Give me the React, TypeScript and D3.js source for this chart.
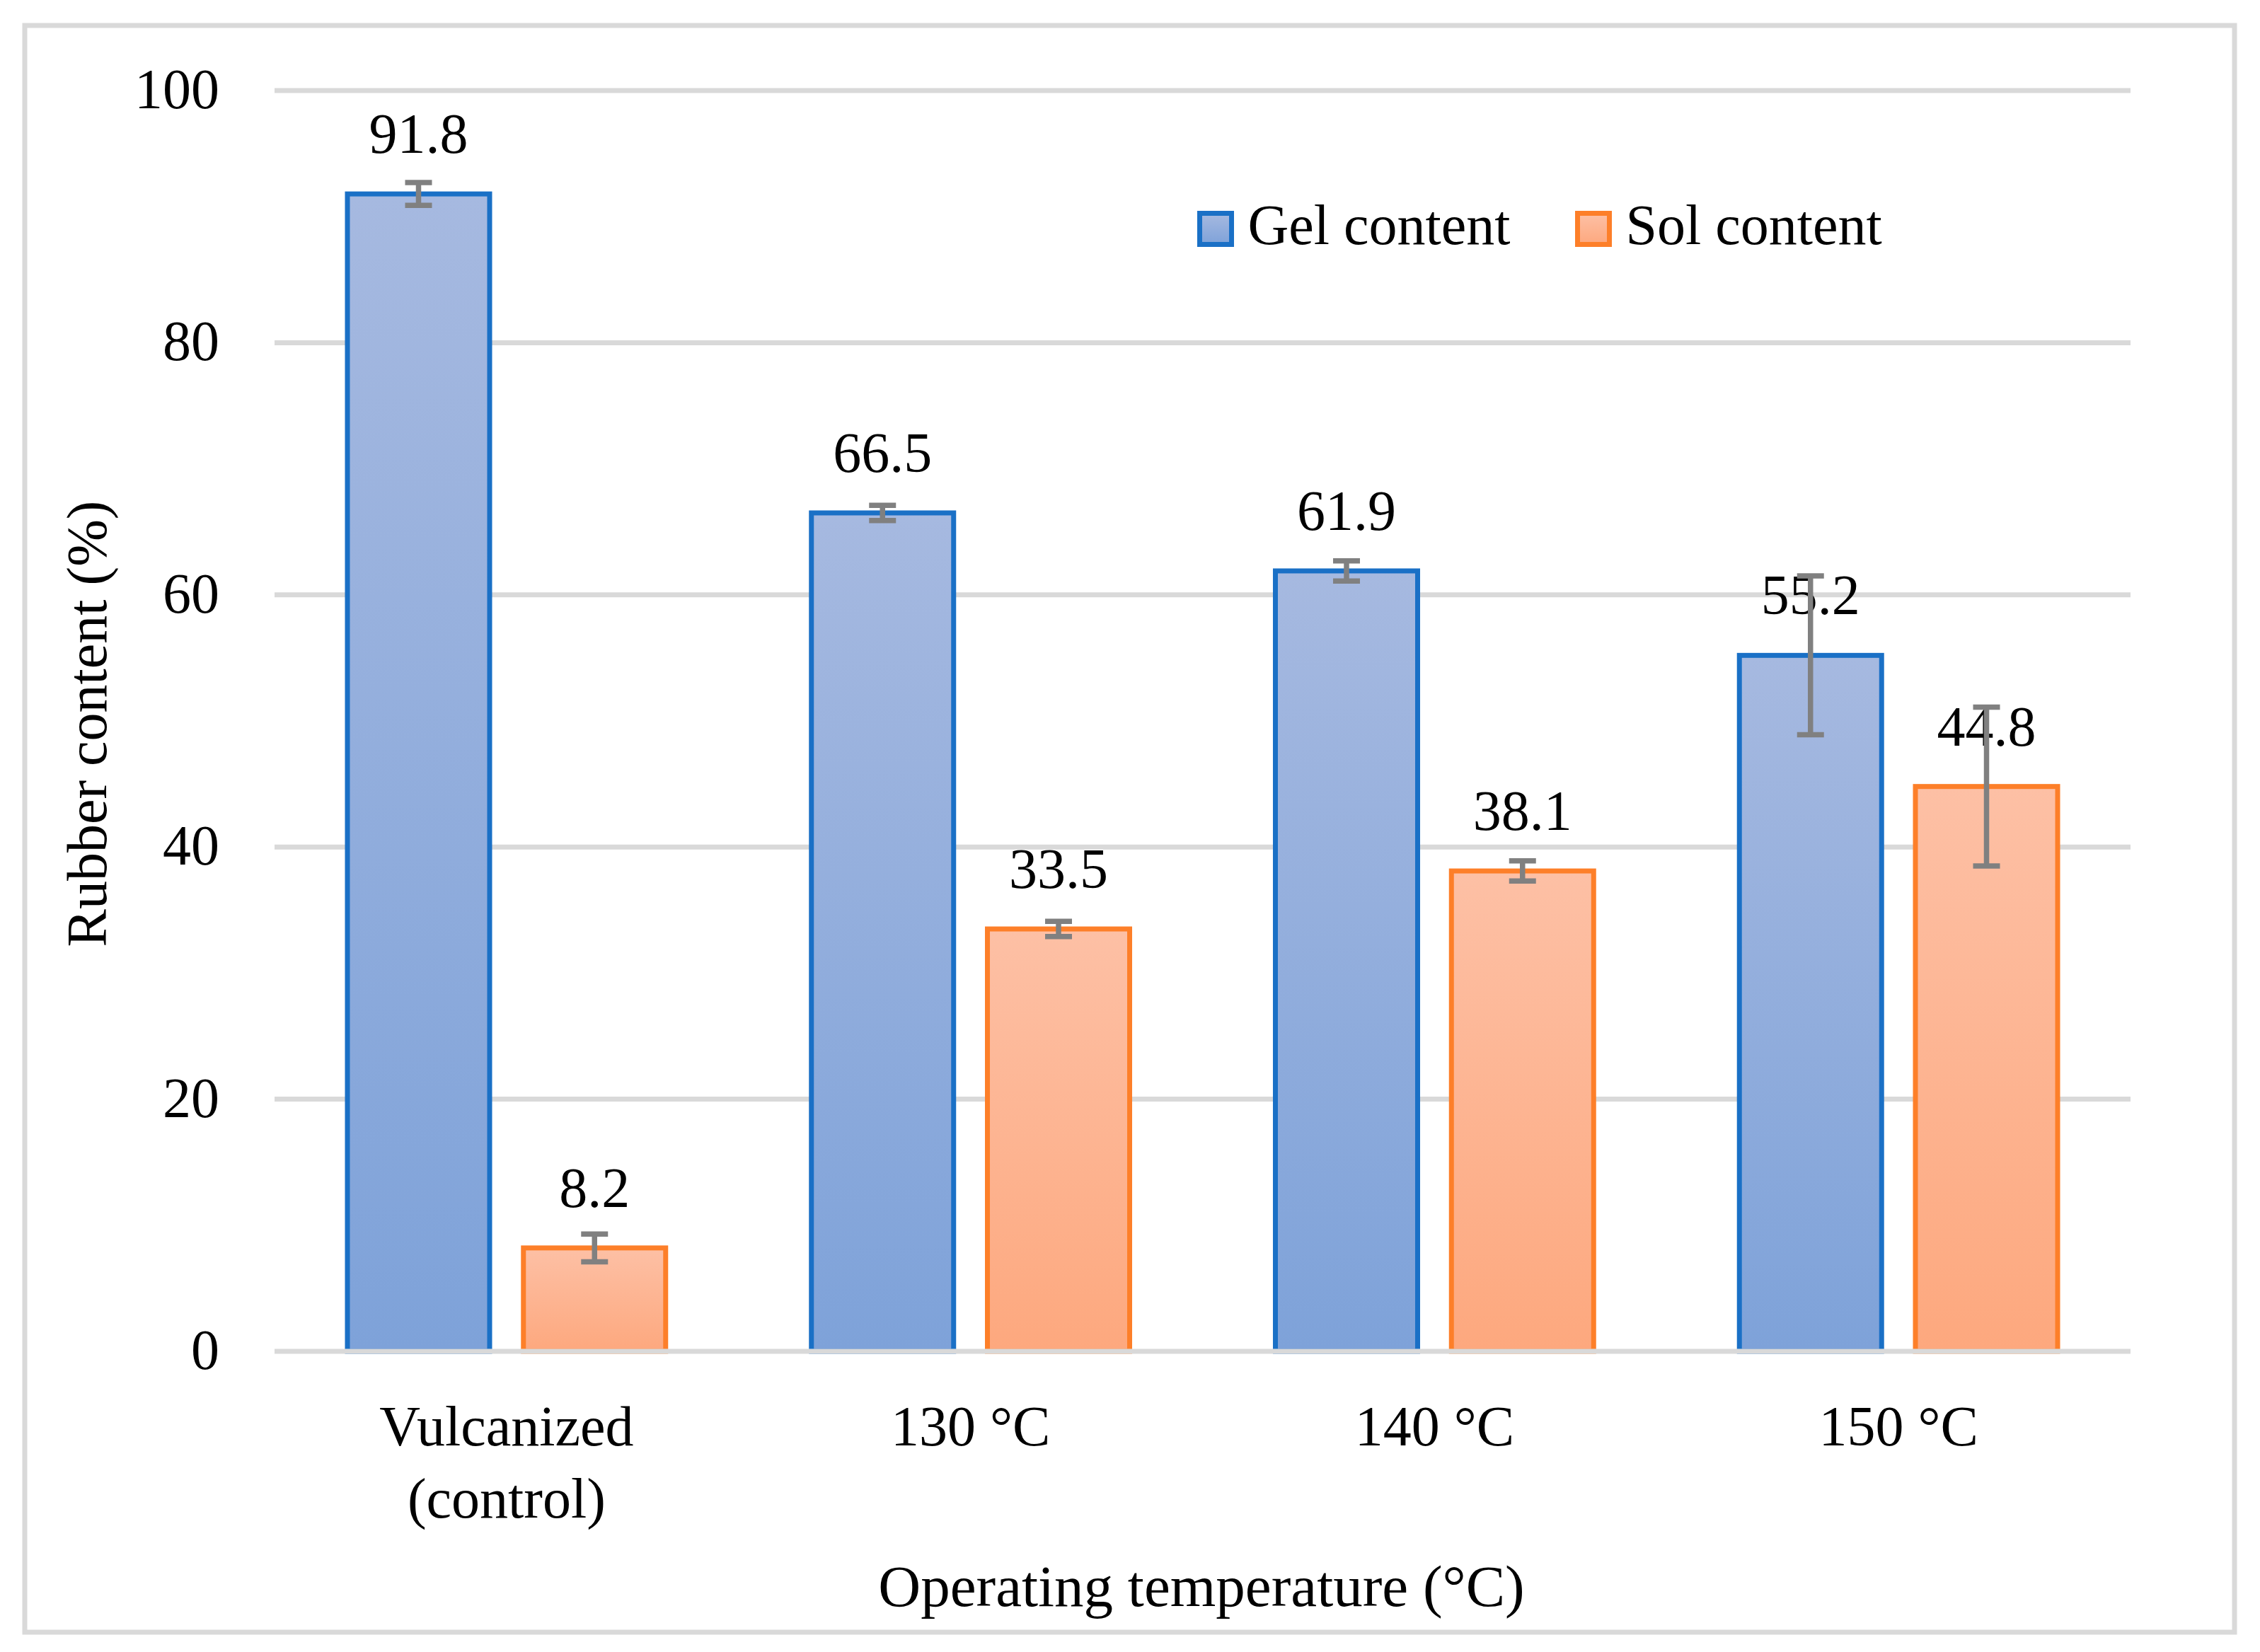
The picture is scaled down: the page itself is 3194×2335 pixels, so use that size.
import React from 'react';
import * as d3 from 'd3';

const categories = ['Vulcanized (control)', '130 °C', '140 °C', '150 °C'];
const categoryLines = [['Vulcanized', '(control)'], ['130 °C'], ['140 °C'], ['150 °C']];
const seriesNames = ['Gel content', 'Sol content'];
const gelValues = [91.8, 66.5, 61.9, 55.2];
const solValues = [8.2, 33.5, 38.1, 44.8];
const gelErrors = [0.9, 0.6, 0.8, 6.3];
const solErrors = [1.1, 0.6, 0.8, 6.3];
const yTicks = [0, 20, 40, 60, 80, 100];

const W = 3194;
const H = 2335;
const FONT = '"Liberation Serif", "Times New Roman", serif';
const FS = 80;

const fills = ['url(#gelGrad)', 'url(#solGrad)'];
const strokes = ['#1a70c6', '#fd7f29'];

export default function App() {
  const x0 = d3.scaleBand<string>().domain(categories).range([388, 3011]).padding(0);
  const x1 = d3
    .scaleBand<string>()
    .domain(seriesNames)
    .range([0, x0.bandwidth()])
    .paddingInner(0.192)
    .paddingOuter(0.414);
  const y = d3.scaleLinear().domain([0, 100]).range([1910, 128]);

  const series = [
    { name: seriesNames[0], values: gelValues, errors: gelErrors },
    { name: seriesNames[1], values: solValues, errors: solErrors },
  ];

  const legendX = [1695.5, 2229.5];

  return (
    <svg
      width={W}
      height={H}
      style={{ position: 'absolute', left: 0, top: 0, background: '#fff' }}
      fontFamily={FONT}
    >
      <defs>
        <linearGradient id="gelGrad" x1="0" y1="0" x2="0" y2="1">
          <stop offset="0%" stopColor="#a6b9e0" />
          <stop offset="100%" stopColor="#7ea2d9" />
        </linearGradient>
        <linearGradient id="solGrad" x1="0" y1="0" x2="0" y2="1">
          <stop offset="0%" stopColor="#fdc0a5" />
          <stop offset="100%" stopColor="#fda87e" />
        </linearGradient>
      </defs>
      <rect x={0} y={0} width={W} height={H} fill="#fff" />
      <rect x={35} y={36} width={3123} height={2271} fill="none" stroke="#d9d9d9" strokeWidth={7} />

      {/* gridlines */}
      {yTicks.filter(t => t !== 0).map(t => (
        <line key={t} x1={388} x2={3011} y1={y(t)} y2={y(t)} stroke="#d9d9d9" strokeWidth={7} />
      ))}

      {/* y tick labels */}
      {yTicks.map(t => (
        <text key={t} x={310} y={y(t) + 25} textAnchor="end" fontSize={FS} fill="#000">
          {t}
        </text>
      ))}

      {/* bars */}
      {series.map((s, si) =>
        s.values.map((v, i) => {
          const bx = (x0(categories[i]) as number) + (x1(s.name) as number);
          return (
            <rect
              key={`${si}-${i}`}
              x={bx}
              y={y(v)}
              width={x1.bandwidth()}
              height={y(0) - y(v)}
              fill={fills[si]}
              stroke={strokes[si]}
              strokeWidth={7}
            />
          );
        })
      )}

      {/* zero line */}
      <line x1={388} x2={3011} y1={y(0)} y2={y(0)} stroke="#d9d9d9" strokeWidth={7} />

      {/* data labels */}
      {series.map((s, si) =>
        s.values.map((v, i) => {
          const cx = (x0(categories[i]) as number) + (x1(s.name) as number) + x1.bandwidth() / 2;
          return (
            <text key={`l${si}-${i}`} x={cx} y={y(v) - 58} textAnchor="middle" fontSize={FS} fill="#000">
              {v.toFixed(1)}
            </text>
          );
        })
      )}

      {/* error bars */}
      {series.map((s, si) =>
        s.values.map((v, i) => {
          const cx = (x0(categories[i]) as number) + (x1(s.name) as number) + x1.bandwidth() / 2;
          const e = s.errors[i];
          const top = y(v + e);
          const bot = y(v - e);
          return (
            <g key={`e${si}-${i}`} stroke="#808080" strokeWidth={7.5}>
              <line x1={cx} x2={cx} y1={top} y2={bot} />
              <line x1={cx - 19} x2={cx + 19} y1={top} y2={top} />
              <line x1={cx - 19} x2={cx + 19} y1={bot} y2={bot} />
            </g>
          );
        })
      )}

      {/* x category labels */}
      {categories.map((c, i) => {
        const cx = (x0(c) as number) + x0.bandwidth() / 2;
        return (
          <text key={c} x={cx} y={2043} textAnchor="middle" fontSize={FS} fill="#000">
            {categoryLines[i].map((ln, j) => (
              <tspan key={j} x={cx} y={2043 + j * 102}>
                {ln}
              </tspan>
            ))}
          </text>
        );
      })}

      {/* axis titles */}
      <text x={1698} y={2270} textAnchor="middle" fontSize={83} fill="#000">
        Operating temperature (°C)
      </text>
      <text
        transform={`translate(150, ${(y(0) + y(100)) / 2 + 4}) rotate(-90)`}
        textAnchor="middle"
        fontSize={FS}
        fill="#000"
      >
        Rubber content (%)
      </text>

      {/* legend */}
      {seriesNames.map((n, si) => (
        <g key={n}>
          <rect
            x={legendX[si]}
            y={301.5}
            width={45}
            height={44}
            fill={fills[si]}
            stroke={strokes[si]}
            strokeWidth={7}
          />
          <text x={legendX[si] + 68} y={345} fontSize={FS} fill="#000">
            {n}
          </text>
        </g>
      ))}
    </svg>
  );
}
